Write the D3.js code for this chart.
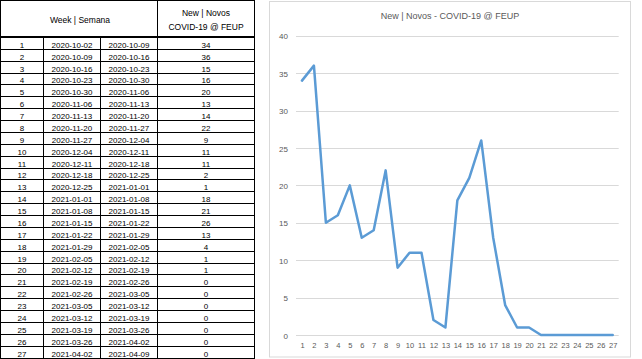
<!DOCTYPE html>
<html>
<head>
<meta charset="utf-8">
<script src="https://cdn.jsdelivr.net/npm/d3@7/dist/d3.min.js"></script>
<style>
  html, body { margin: 0; padding: 0; background: #fff; }
  svg { display: block; }
  text { font-family: "Liberation Sans", Arial, sans-serif; }
</style>
</head>
<body>
<svg id="c" width="642" height="359"></svg>
<script>
// ---- data ----
const weeks = [1,2,3,4,5,6,7,8,9,10,11,12,13,14,15,16,17,18,19,20,21,22,23,24,25,26,27];
const startDates = ["2020-10-02","2020-10-09","2020-10-16","2020-10-23","2020-10-30","2020-11-06","2020-11-13","2020-11-20","2020-11-27","2020-12-04","2020-12-11","2020-12-18","2020-12-25","2021-01-01","2021-01-08","2021-01-15","2021-01-22","2021-01-29","2021-02-05","2021-02-12","2021-02-19","2021-02-26","2021-03-05","2021-03-12","2021-03-19","2021-03-26","2021-04-02"];
const endDates = ["2020-10-09","2020-10-16","2020-10-23","2020-10-30","2020-11-06","2020-11-13","2020-11-20","2020-11-27","2020-12-04","2020-12-11","2020-12-18","2020-12-25","2021-01-01","2021-01-08","2021-01-15","2021-01-22","2021-01-29","2021-02-05","2021-02-12","2021-02-19","2021-02-26","2021-03-05","2021-03-12","2021-03-19","2021-03-26","2021-04-02","2021-04-09"];
const newCases = [34,36,15,16,20,13,14,22,9,11,11,2,1,18,21,26,13,4,1,1,0,0,0,0,0,0,0];
const yTicks = [0,5,10,15,20,25,30,35,40];
const tableHeader = ["Week | Semana", "New | Novos", "COVID-19 @ FEUP"];
const chartTitle = "New | Novos - COVID-19 @ FEUP";

const svg = d3.select("#c");

// ---- table ----
const colEdges = [0.5, 43.5, 100.5, 157.5, 254.5];
const headerBottom = 37;
const rowY = d3.scaleBand().domain(weeks).range([38, 358.5]).paddingInner(0).paddingOuter(0);
const tbl = svg.append("g");
const ink = "#000";

// outer frame & header
tbl.append("line").attr("x1", colEdges[0]).attr("x2", colEdges[4]).attr("y1", 0.5).attr("y2", 0.5).attr("stroke", ink);
tbl.append("line").attr("x1", colEdges[0]).attr("x2", colEdges[4]).attr("y1", headerBottom).attr("y2", headerBottom).attr("stroke", ink).attr("stroke-width", 2);
// verticals
tbl.append("line").attr("x1", colEdges[0]).attr("x2", colEdges[0]).attr("y1", 0).attr("y2", 359).attr("stroke", ink);
tbl.append("line").attr("x1", colEdges[4]).attr("x2", colEdges[4]).attr("y1", 0).attr("y2", 359).attr("stroke", ink);
tbl.append("line").attr("x1", colEdges[3]).attr("x2", colEdges[3]).attr("y1", 0).attr("y2", 359).attr("stroke", ink);
[colEdges[1], colEdges[2]].forEach(x => {
  tbl.append("line").attr("x1", x).attr("x2", x).attr("y1", headerBottom).attr("y2", 359).attr("stroke", ink);
});
// row lines
tbl.selectAll("line.row").data(weeks).join("line").attr("class", "row")
  .attr("x1", colEdges[0]).attr("x2", colEdges[4])
  .attr("y1", d => Math.round(rowY(d) + rowY.bandwidth()) - 0.5)
  .attr("y2", d => Math.round(rowY(d) + rowY.bandwidth()) - 0.5)
  .attr("stroke", ink);

// header text
const hdrFont = 8.5;
tbl.append("text").attr("x", (colEdges[0] + colEdges[3]) / 2 + 1).attr("y", 23)
  .attr("text-anchor", "middle").attr("font-size", hdrFont).attr("fill", "#000").text(tableHeader[0]);
tbl.append("text").attr("x", (colEdges[3] + colEdges[4]) / 2).attr("y", 16)
  .attr("text-anchor", "middle").attr("font-size", hdrFont).attr("fill", "#000").text(tableHeader[1]);
tbl.append("text").attr("x", (colEdges[3] + colEdges[4]) / 2).attr("y", 30)
  .attr("text-anchor", "middle").attr("font-size", hdrFont).attr("fill", "#000").text(tableHeader[2]);

// body text
const bodyFont = 8;
const cols = [
  {vals: weeks, cx: (colEdges[0] + colEdges[1]) / 2},
  {vals: startDates, cx: (colEdges[1] + colEdges[2]) / 2},
  {vals: endDates, cx: (colEdges[2] + colEdges[3]) / 2},
  {vals: newCases, cx: (colEdges[3] + colEdges[4]) / 2}
];
cols.forEach(c => {
  tbl.selectAll(null).data(weeks).join("text")
    .attr("x", c.cx)
    .attr("y", (d) => Math.round(rowY(d) + rowY.bandwidth()) - 2)
    .attr("text-anchor", "middle").attr("font-size", bodyFont).attr("fill", "#000")
    .text((d, i) => c.vals[i]);
});

// ---- chart ----
const chart = svg.append("g");
chart.append("rect").attr("x", 269.5).attr("y", 1.5).attr("width", 361).attr("height", 355.5)
  .attr("fill", "#fff").attr("stroke", "#D9D9D9");

chart.append("text").attr("x", 450).attr("y", 19).attr("text-anchor", "middle")
  .attr("font-size", 9).attr("fill", "#595959").text(chartTitle);

const x = d3.scalePoint().domain(weeks).range([296, 618.7]).padding(0.5);
const y = d3.scaleLinear().domain([0, 40]).range([335, 35.7]);

// gridlines
chart.selectAll("line.grid").data(yTicks).join("line").attr("class", "grid")
  .attr("x1", 296).attr("x2", 618.7)
  .attr("y1", d => Math.round(y(d)) + 0.5).attr("y2", d => Math.round(y(d)) + 0.5)
  .attr("stroke", "#D9D9D9").attr("stroke-width", 1);

// y axis labels
const yAxis = d3.axisLeft(y).tickValues(yTicks).tickSize(0).tickPadding(0);
const yg = chart.append("g").attr("transform", "translate(288,0.5)").call(yAxis);
yg.select(".domain").remove();
yg.selectAll("text").attr("font-size", 8).attr("fill", "#595959").attr("font-family", "Liberation Sans, Arial, sans-serif");

// x axis labels
const xAxis = d3.axisBottom(x).tickSize(0).tickPadding(0);
const xg = chart.append("g").attr("transform", "translate(0,342.5)").call(xAxis);
xg.select(".domain").remove();
xg.selectAll("text").attr("font-size", 7.5).attr("fill", "#595959").attr("font-family", "Liberation Sans, Arial, sans-serif");

// series line
const line = d3.line().x((d, i) => x(weeks[i])).y(d => y(d));
chart.append("path").datum(newCases).attr("d", line)
  .attr("fill", "none").attr("stroke", "#5B9BD5").attr("stroke-width", 2.5)
  .attr("stroke-linejoin", "round").attr("stroke-linecap", "round");
</script>
</body>
</html>
